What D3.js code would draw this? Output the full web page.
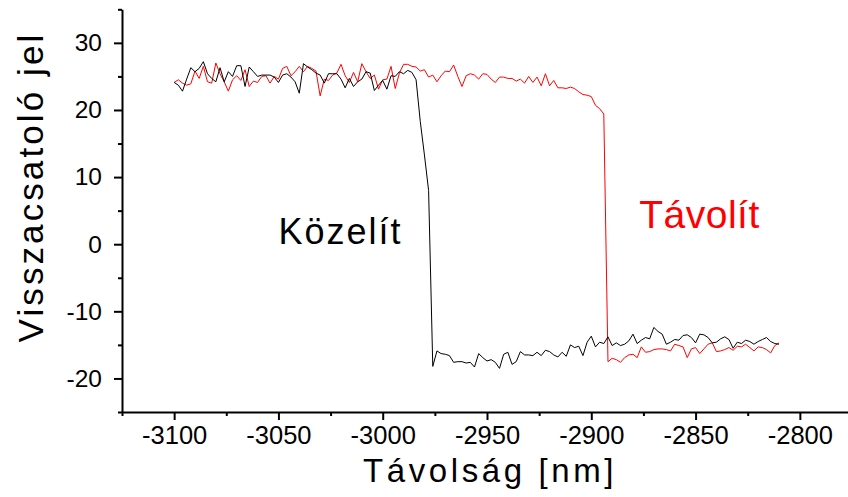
<!DOCTYPE html>
<html>
<head>
<meta charset="utf-8">
<script src="https://cdn.jsdelivr.net/npm/d3@7"></script>
<style>
  html, body { margin: 0; padding: 0; background: #fff; }
  svg { display: block; font-family: "Liberation Sans", Arial, sans-serif; }
</style>
</head>
<body>
<div id="chart"></div>
<script>
// sample positions (nm) shared by both sweeps
const distance = [
  -3100, -3098, -3096, -3094, -3092, -3090, -3088, -3086, -3084, -3082,
  -3080, -3078, -3076, -3074, -3072, -3070, -3068, -3066, -3064, -3062,
  -3060, -3058, -3056, -3054, -3052, -3050, -3048, -3046, -3044, -3042,
  -3040, -3038, -3036, -3034, -3032, -3030, -3028, -3026, -3024, -3022,
  -3020, -3018, -3016, -3014, -3012, -3010, -3008, -3006, -3004, -3002,
  -3000, -2998, -2996, -2994, -2992, -2990, -2988, -2986, -2984, -2982,
  -2980, -2978, -2976, -2974, -2972, -2970, -2968, -2966, -2964, -2962,
  -2960, -2958, -2956, -2954, -2952, -2950, -2948, -2946, -2944, -2942,
  -2940, -2938, -2936, -2934, -2932, -2930, -2928, -2926, -2924, -2922,
  -2920, -2918, -2916, -2914, -2912, -2910, -2908, -2906, -2904, -2902,
  -2900, -2898, -2896, -2894, -2892, -2890, -2888, -2886, -2884, -2882,
  -2880, -2878, -2876, -2874, -2872, -2870, -2868, -2866, -2864, -2862,
  -2860, -2858, -2856, -2854, -2852, -2850, -2848, -2846, -2844, -2842,
  -2840, -2838, -2836, -2834, -2832, -2830, -2828, -2826, -2824, -2822,
  -2820, -2818, -2816, -2814, -2812, -2810
];

// "Közelít" (approach) - black
const kozelit = [
  24.1, 23.7, 22.8, 24.6, 26.3, 25.7, 26.2, 27.2, 25.4, 24.7,
  24.2, 26.3, 24.2, 25.7, 25.0, 26.6, 26.6, 23.5, 26.4, 25.7,
  25.0, 25.2, 25.2, 25.2, 24.9, 24.1, 25.2, 25.4, 24.9, 24.2,
  22.5, 26.9, 26.4, 26.0, 25.5, 25.2, 24.0, 25.4, 25.4, 25.4,
  24.6, 23.3, 24.7, 23.5, 24.2, 24.6, 25.7, 25.5, 22.9, 23.7,
  24.4, 23.1, 25.1, 25.0, 25.7, 25.4, 25.9, 25.6, 24.5, 18.3,
  13.3, 8.0, -18.2, -15.9, -16.3, -16.4, -16.6, -17.6, -17.5, -17.5,
  -17.7, -17.6, -18.3, -16.3, -16.9, -17.4, -17.2, -17.6, -18.5, -16.4,
  -16.1, -17.9, -17.5, -16.0, -16.5, -16.5, -16.6, -16.1, -16.6, -15.8,
  -16.0, -16.5, -16.8, -16.1, -16.7, -15.0, -15.4, -15.2, -16.6, -14.6,
  -13.7, -15.3, -14.6, -14.8, -13.8, -15.1, -14.7, -15.1, -14.9, -14.4,
  -13.4, -14.8, -14.3, -13.9, -14.1, -12.4, -13.0, -13.4, -14.9, -14.6,
  -14.2, -14.3, -13.6, -13.5, -13.9, -14.7, -13.4, -13.5, -13.9, -14.7,
  -14.6, -14.1, -13.8, -14.2, -15.5, -14.6, -14.8, -14.3, -14.5, -14.9,
  -14.5, -14.2, -13.9, -14.5, -14.8, -14.9
];

// "Távolít" (retract) - red
const tavolit = [
  24.1, 24.5, 24.0, 23.7, 23.9, 25.8, 24.7, 26.5, 24.2, 24.0,
  27.0, 25.4, 24.2, 22.8, 24.5, 25.1, 24.4, 26.0, 23.5, 24.3,
  24.1, 25.0, 25.1, 24.0, 25.0, 24.6, 26.2, 26.5, 25.1, 25.7,
  26.5, 25.7, 26.5, 26.2, 25.8, 22.1, 24.6, 24.4, 25.2, 25.5,
  26.8, 25.1, 24.1, 25.6, 24.2, 26.9, 25.7, 24.7, 25.2, 23.1,
  24.5, 24.6, 26.5, 23.2, 25.5, 26.8, 26.8, 26.5, 26.4, 25.8,
  26.0, 24.9, 25.2, 24.2, 25.1, 25.8, 25.7, 26.7, 25.0, 23.5,
  25.1, 25.4, 25.2, 24.6, 25.4, 25.3, 24.6, 24.1, 24.9, 24.9,
  24.7, 24.7, 24.3, 24.6, 24.0, 25.0, 24.1, 24.9, 23.6, 25.4,
  23.6, 24.4, 23.3, 23.3, 23.2, 23.4, 23.2, 22.7, 22.3, 22.2,
  22.0, 20.7, 20.2, 19.4, -17.5, -17.0, -17.2, -17.6, -16.9, -16.5,
  -16.4, -16.9, -15.3, -16.1, -16.0, -15.7, -15.6, -15.6, -15.7, -15.9,
  -14.9, -15.1, -15.3, -16.9, -15.6, -15.4, -16.3, -15.6, -14.9, -14.7,
  -16.0, -15.9, -15.7, -15.4, -15.8, -15.2, -15.3, -14.9, -15.4, -15.9,
  -15.3, -15.4, -15.7, -16.2, -15.1, -14.7
];

const xTicks = [-3100, -3050, -3000, -2950, -2900, -2850, -2800];
const xMinor = [-3125, -3075, -3025, -2975, -2925, -2875, -2825, -2775];
const yTicks = [-20, -10, 0, 10, 20, 30];
const yMinor = [-25, -15, -5, 5, 15, 25, 35];

const width = 848, height = 497;
const margin = { left: 122, right: -4, top: 9.3, bottom: 85 };

const svg = d3.select('#chart')
  .append('svg')
  .attr('width', width)
  .attr('height', height);

const x = d3.scaleLinear()
  .domain([-3125, -2775])
  .range([margin.left, width - margin.right]);

const y = d3.scaleLinear()
  .domain([-25, 35])
  .range([height - margin.bottom, margin.top]);

// plain hyphen minus, no thousands separator
const plain = d => String(d);

// minor ticks first, then the labelled axes on top
svg.append('g')
  .attr('transform', `translate(0, ${y(-25)})`)
  .call(d3.axisBottom(x).tickValues(xMinor).tickSize(4).tickFormat(''))
  .call(g => g.select('.domain').remove());

svg.append('g')
  .attr('transform', `translate(${x(-3125)}, 0)`)
  .call(d3.axisLeft(y).tickValues(yMinor).tickSize(4).tickFormat(''))
  .call(g => g.select('.domain').remove());

const xAxis = svg.append('g')
  .attr('transform', `translate(0, ${y(-25)})`)
  .call(d3.axisBottom(x).tickValues(xTicks).tickFormat(plain)
    .tickSize(8).tickSizeOuter(0).tickPadding(6));

const yAxis = svg.append('g')
  .attr('transform', `translate(${x(-3125)}, 0)`)
  .call(d3.axisLeft(y).tickValues(yTicks).tickFormat(plain)
    .tickSize(8).tickSizeOuter(0).tickPadding(12));

svg.selectAll('.tick line, .domain')
  .attr('stroke', '#000')
  .attr('stroke-width', 2);

xAxis.selectAll('text')
  .attr('font-size', 25.5)
  .attr('font-family', '"Liberation Sans", Arial, sans-serif')
  .attr('fill', '#000');

yAxis.selectAll('text')
  .attr('font-size', 24.5)
  .attr('font-family', '"Liberation Sans", Arial, sans-serif')
  .attr('fill', '#000');

// axis titles
svg.append('text')
  .attr('x', 490)
  .attr('y', 482)
  .attr('text-anchor', 'middle')
  .attr('font-size', 33)
  .attr('letter-spacing', 3.6)
  .text('Távolság [nm]');

svg.append('text')
  .attr('transform', 'translate(43, 187) rotate(-90)')
  .attr('text-anchor', 'middle')
  .attr('font-size', 35)
  .attr('letter-spacing', 3.1)
  .text('Visszacsatoló jel');

// curves
const line = d3.line()
  .x((d, i) => x(distance[i]))
  .y(d => y(d));

svg.append('path')
  .datum(tavolit)
  .attr('fill', 'none')
  .attr('stroke', '#ff0000')
  .attr('stroke-width', 1)
  .attr('d', line);

svg.append('path')
  .datum(kozelit)
  .attr('fill', 'none')
  .attr('stroke', '#000')
  .attr('stroke-width', 1)
  .attr('d', line);

// labels placed in data coordinates
svg.append('text')
  .attr('x', x(-3050))
  .attr('y', y(0.1))
  .attr('font-size', 36)
  .attr('letter-spacing', 2)
  .attr('fill', '#000')
  .text('Közelít');

svg.append('text')
  .attr('x', x(-2877))
  .attr('y', y(2.4))
  .attr('font-size', 39)
  .attr('letter-spacing', 0.5)
  .attr('fill', '#ff0000')
  .text('Távolít');
</script>
</body>
</html>
